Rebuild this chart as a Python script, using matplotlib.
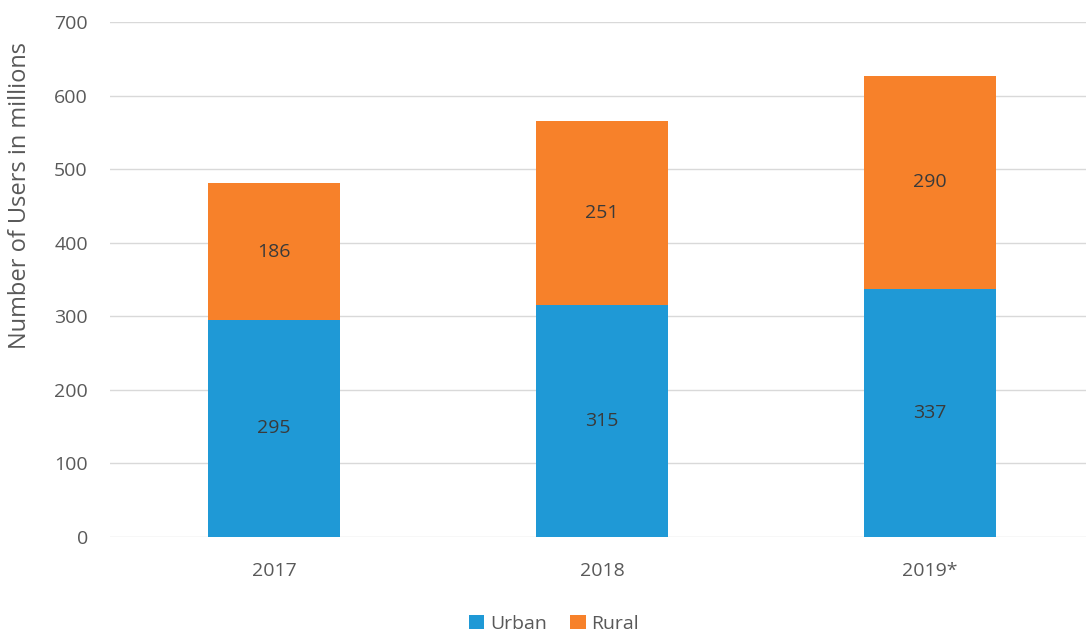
import matplotlib.pyplot as plt

# Users per year, split into urban and rural (millions)
years = ["2017", "2018", "2019*"]
urban = [295, 315, 337]
rural = [186, 251, 290]

blue = "#1f99d6"
orange = "#f7812a"
text_gray = "#595959"

plt.rcParams["font.family"] = ["Open Sans", "DejaVu Sans"]

fig = plt.figure(figsize=(10.86, 6.35), dpi=100)
ax = fig.add_axes([110 / 1086, 1 - 537 / 635, 976 / 1086, 515 / 635])

x = list(range(len(years)))
bar_urban = ax.bar(x, urban, width=0.4, color=blue, label="Urban", zorder=3)
bar_rural = ax.bar(x, rural, width=0.4, bottom=urban, color=orange, label="Rural", zorder=3)

# values in the middle of each segment
ax.bar_label(bar_urban, labels=[str(v) for v in urban], label_type="center",
             color="#3a3a3a", fontsize=14)
ax.bar_label(bar_rural, labels=[str(v) for v in rural], label_type="center",
             color="#3a3a3a", fontsize=14)

ax.set_xlim(-0.5, 976 / 328 - 0.5)
ax.set_ylim(0, 700)
ax.set_yticks(range(0, 701, 100))
ax.set_xticks(x)
ax.set_xticklabels(years)
ax.grid(axis="y", color="#d9d9d9", linewidth=1, zorder=0)
for s in ax.spines.values():
    s.set_visible(False)
ax.tick_params(length=0, labelsize=14, colors=text_gray)
ax.tick_params(axis="y", pad=16)
ax.tick_params(axis="x", pad=18)

ax.set_ylabel("Number of Users in millions", fontsize=17, color=text_gray)
ax.yaxis.set_label_coords(-78 / 976, 0.664)

fig.legend(loc="lower center", bbox_to_anchor=(0.51, -0.024), ncol=2, frameon=False,
           fontsize=14, labelcolor=text_gray, handlelength=0.8, handleheight=0.8,
           handletextpad=0.3, columnspacing=1.2)

fig.savefig("out.png", dpi=100)
